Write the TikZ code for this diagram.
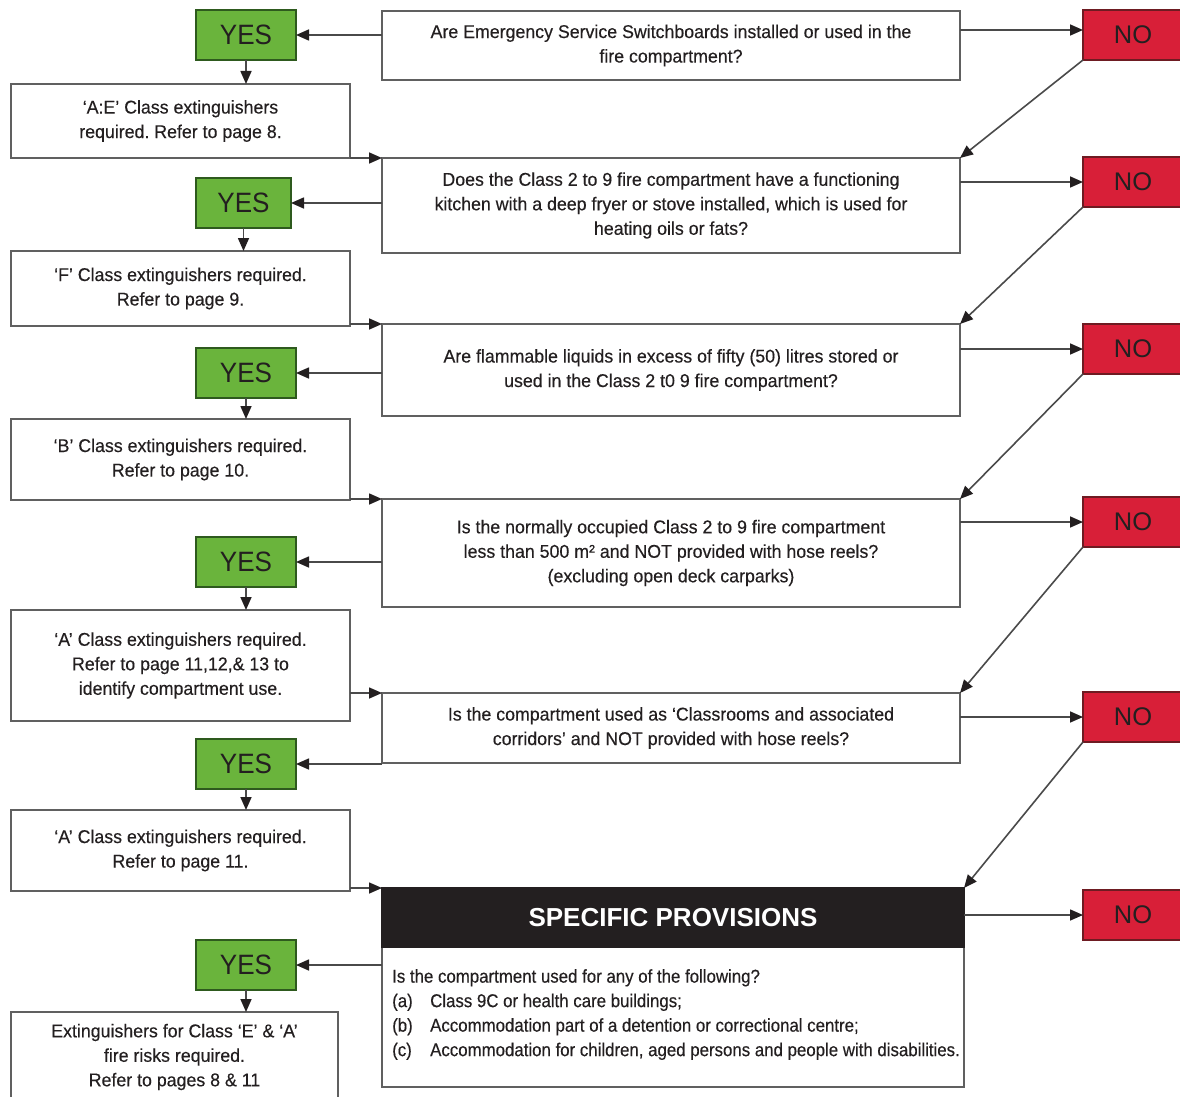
\documentclass[tikz,border=0pt]{standalone}
\usepackage{fontspec}
\setmainfont{Liberation Sans}[FakeStretch=0.96,FakeBold=0.3]
\newfontfamily\spbodyfamily{Liberation Sans}[FakeStretch=0.91,FakeBold=0.3]
\newfontfamily\yesfamily{Liberation Sans}[FakeStretch=0.93]
\newfontfamily\nofamily{Liberation Sans}
\newfontfamily\spfamily{Liberation Sans}[FakeStretch=1.0]
\usetikzlibrary{arrows.meta}
\frenchspacing
\definecolor{ygreen}{HTML}{6AB43C}
\definecolor{ygreenborder}{HTML}{2E5A1E}
\definecolor{nred}{HTML}{D81F38}
\definecolor{nredborder}{HTML}{6E1B22}
\definecolor{ink}{HTML}{231F20}
\definecolor{boxline}{HTML}{606060}
\definecolor{connline}{HTML}{4A4A4A}
\newcommand\myqfont{\fontsize{18.5}{24.5}\selectfont}
\newcommand\myspbodyfont{\spbodyfamily\fontsize{18.5}{24.5}\selectfont}
\newcommand\myyesfont{\yesfamily\fontsize{28}{30}\selectfont}
\newcommand\mynofont{\nofamily\fontsize{25.5}{28}\selectfont}
\newcommand\myspfont{\spfamily\bfseries\fontsize{26}{28}\selectfont}
\begin{document}
\begin{tikzpicture}[x=1pt,y=-1pt,
  qbox/.style={draw=boxline, line width=1.8pt, fill=white, inner sep=0pt, outer sep=0pt,
    anchor=north west, align=center, font=\myqfont, text=ink},
  abox/.style={qbox},
  ybox/.style={draw=ygreenborder, fill=ygreen, line width=1.8pt, inner sep=0pt, outer sep=0pt,
    anchor=north west, font=\myyesfont, text=ink},
  nbox/.style={draw=nredborder, fill=nred, line width=1.6pt, inner sep=0pt, outer sep=0pt,
    anchor=north west, font=\mynofont, text=ink},
  conn/.style={draw=connline, line width=1.6pt, -{Triangle[length=13pt,width=11pt,fill=ink,color=ink]}},
]
\clip (0,0) rectangle (1180,1097);
\useasboundingbox (0,0) rectangle (1180,1097);
\fill[white] (0,0) rectangle (1180,1097);

% question boxes
\node[qbox, minimum width=578pt, minimum height=69pt] (Q1) at (382,11)
  {Are Emergency Service Switchboards installed or used in the\\fire compartment?};
\node[qbox, minimum width=578pt, minimum height=95pt] (Q2) at (382,158)
  {Does the Class 2 to 9 fire compartment have a functioning\\kitchen with a deep fryer or stove installed, which is used for\\heating oils or fats?};
\node[qbox, minimum width=578pt, minimum height=92pt] (Q3) at (382,324)
  {Are flammable liquids in excess of fifty (50) litres stored or\\used in the Class 2 t0 9 fire compartment?};
\node[qbox, minimum width=578pt, minimum height=108pt] (Q4) at (382,499)
  {Is the normally occupied Class 2 to 9 fire compartment\\less than 500 m² and NOT provided with hose reels?\\(excluding open deck carparks)};
\node[qbox, minimum width=578pt, minimum height=70pt] (Q5) at (382,693)
  {Is the compartment used as ‘Classrooms and associated\\corridors’ and NOT provided with hose reels?};
\node[qbox, minimum width=582pt, minimum height=199pt] (SP) at (382,888) {};
\node[draw=ink, fill=ink, line width=1.8pt, inner sep=0pt, outer sep=0pt, anchor=north west,
  minimum width=582pt, minimum height=59pt, text=white, font=\myspfont] (SPhead) at (382,888)
  {SPECIFIC PROVISIONS};
\node[anchor=north west, inner sep=0pt, align=left, font=\myspbodyfont, text=ink] (SPtext) at (392,969)
  {Is the compartment used for any of the following?\\
   \makebox[38pt][l]{(a)}Class 9C or health care buildings;\\
   \makebox[38pt][l]{(b)}Accommodation part of a detention or correctional centre;\\
   \makebox[38pt][l]{(c)}Accommodation for children, aged persons and people with disabilities.};

% yes boxes
\node[ybox, minimum width=100pt, minimum height=50pt] (Y1) at (196,10) {YES};
\node[ybox, minimum width=95pt, minimum height=50pt] (Y2) at (196,178) {YES};
\node[ybox, minimum width=100pt, minimum height=50pt] (Y3) at (196,348) {YES};
\node[ybox, minimum width=100pt, minimum height=50pt] (Y4) at (196,537) {YES};
\node[ybox, minimum width=100pt, minimum height=50pt] (Y5) at (196,739) {YES};
\node[ybox, minimum width=100pt, minimum height=50pt] (Y6) at (196,940) {YES};

% answer boxes
\node[abox, minimum width=339pt, minimum height=74pt] (A1) at (11,84)
  {‘A:E’ Class extinguishers\\required. Refer to page 8.};
\node[abox, minimum width=339pt, minimum height=75pt] (A2) at (11,251)
  {‘F’ Class extinguishers required.\\Refer to page 9.};
\node[abox, minimum width=339pt, minimum height=81pt] (A3) at (11,419)
  {‘B’ Class extinguishers required.\\Refer to page 10.};
\node[abox, minimum width=339pt, minimum height=111pt] (A4) at (11,610)
  {‘A’ Class extinguishers required.\\Refer to page 11,12,\& 13 to\\identify compartment use.};
\node[abox, minimum width=339pt, minimum height=81pt] (A5) at (11,810)
  {‘A’ Class extinguishers required.\\Refer to page 11.};
\node[abox, minimum width=327pt, minimum height=90pt] (A6) at (11,1012)
  {Extinguishers for Class ‘E’ \& ‘A’\\fire risks required.\\Refer to pages 8 \& 11};

% no boxes
\node[nbox, minimum width=100pt, minimum height=50pt] (N1) at (1083,10) {NO};
\node[nbox, minimum width=100pt, minimum height=50pt] (N2) at (1083,157) {NO};
\node[nbox, minimum width=100pt, minimum height=50pt] (N3) at (1083,324) {NO};
\node[nbox, minimum width=100pt, minimum height=50pt] (N4) at (1083,497) {NO};
\node[nbox, minimum width=100pt, minimum height=50pt] (N5) at (1083,692) {NO};
\node[nbox, minimum width=100pt, minimum height=50pt] (N6) at (1083,890) {NO};

% question -> yes
\foreach \q/\y in {Q1/Y1,Q2/Y2,Q3/Y3,Q4/Y4,Q5/Y5,SP/Y6}
  \draw[conn] (\q.west |- \y.east) -- (\y.east);
% yes -> answer
\foreach \y/\a in {Y1/A1,Y2/A2,Y3/A3,Y4/A4,Y5/A5,Y6/A6}
  \draw[conn] (\y.south) -- (\y.south |- \a.north);
% answer -> next question
\foreach \a/\q in {A1/Q2,A2/Q3,A3/Q4,A4/Q5,A5/SP}
  \draw[conn] (\a.east |- \q.north) -- (\q.north west);
% question -> no
\draw[conn] ([yshift=5pt]Q1.east |- N1.west) -- ([yshift=5pt]N1.west);
\foreach \q/\n in {Q2/N2,Q3/N3,Q4/N4,Q5/N5,SP/N6}
  \draw[conn] (\q.east |- \n.west) -- (\n.west);
% no -> next question
\foreach \n/\q in {N1/Q2,N2/Q3,N3/Q4,N4/Q5,N5/SP}
  \draw[conn] (\n.south west) -- (\q.north east);
\end{tikzpicture}
\end{document}
